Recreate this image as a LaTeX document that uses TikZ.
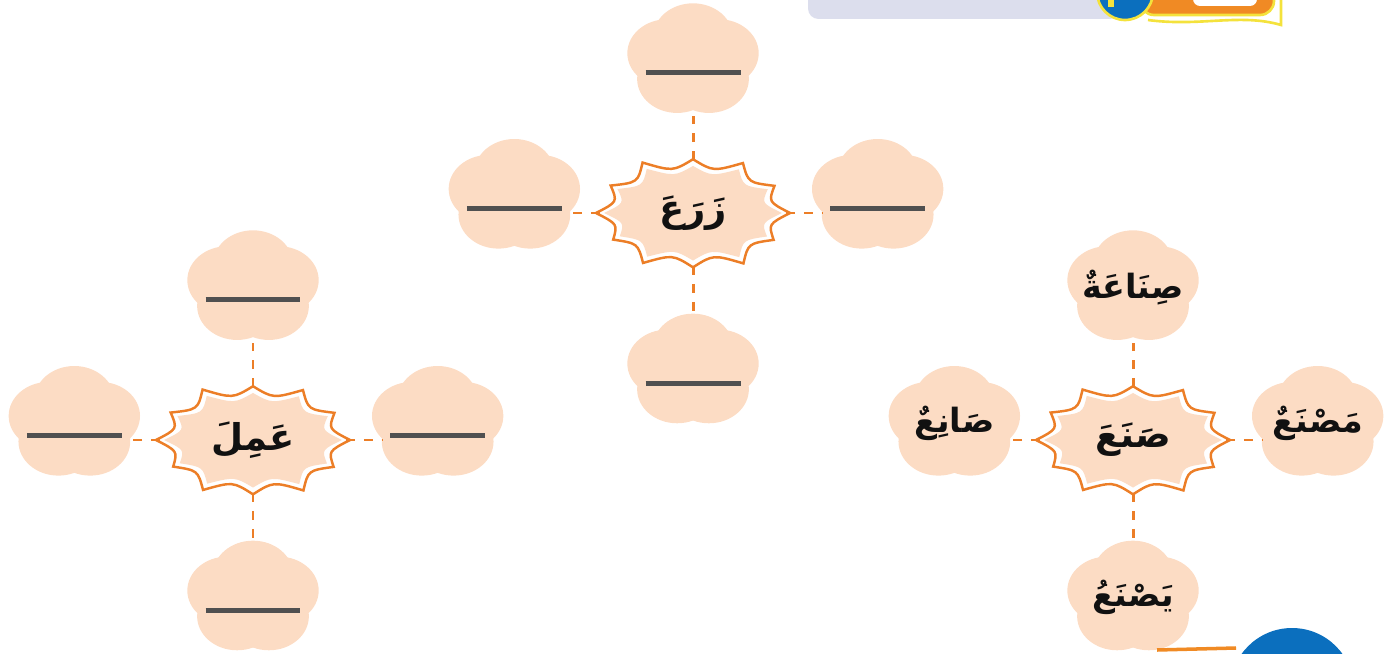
\documentclass[tikz,border=0pt]{standalone}
\usepackage{fontspec}
\usepackage{xcolor}
\usetikzlibrary{positioning,calc,shapes.geometric,backgrounds}
\TeXXeTstate=1
\newfontfamily\arabicfont[Script=Arabic]{DejaVu Sans}
\definecolor{Peach}{HTML}{FCDCC4}
\definecolor{Rim}{HTML}{EC7E27}
\definecolor{Ink}{HTML}{111111}
\definecolor{Blank}{HTML}{505050}
\definecolor{Sky}{HTML}{0B6FBE}
\definecolor{Lilac}{HTML}{DCDEED}
\definecolor{Sun}{HTML}{F4E23C}
\definecolor{Tab}{HTML}{F08A24}
\tikzset{
  root/.style={ellipse,minimum width=3.7cm,minimum height=2.1cm,inner sep=0pt,font=\arabicfont\bfseries\fontsize{21}{25}\selectfont,text=Ink},
  flower/.style={circle,minimum size=2.2cm,inner sep=0pt,font=\arabicfont\bfseries\fontsize{19}{23}\selectfont,text=Ink},
  petal/.style={fill=Peach},
  link/.style={draw=Rim,line width=1.7pt,dash pattern=on 0.18cm off 0.18cm}
}
\newcommand\blank{\smash{\raisebox{-0.3cm}{\color{Blank}\rule{1.9cm}{0.1cm}}}}
\newcommand\arword[1]{\beginR #1\endR}

\begin{document}
\begin{tikzpicture}[x=0.02cm,y=0.02cm]
  \useasboundingbox (0,0) rectangle (1395,653);
  % roots
  \node[root] (zr) at (693,440) {\arword{زَرَعَ}};
  \node[root] (am) at (253,213) {\arword{عَمِلَ}};
  \node[root] (sn) at (1133,213) {\arword{صَنَعَ}};
  % derived words
  \node[flower,above=0.89cm of zr] (zrN) {\blank};
  \node[flower,left=0.61cm of zr,yshift=0.34cm] (zrW) {\blank};
  \node[flower,right=0.73cm of zr,yshift=0.34cm] (zrE) {\blank};
  \node[flower,below=0.99cm of zr] (zrS) {\blank};
  \node[flower,above=0.89cm of am] (amN) {\blank};
  \node[flower,left=0.61cm of am,yshift=0.34cm] (amW) {\blank};
  \node[flower,right=0.73cm of am,yshift=0.34cm] (amE) {\blank};
  \node[flower,below=0.99cm of am] (amS) {\blank};
  \node[flower,above=0.89cm of sn] (snN) {\arword{صِنَاعَةٌ}};
  \node[flower,left=0.61cm of sn,yshift=0.34cm] (snW) {\arword{صَانِعٌ}};
  \node[flower,right=0.73cm of sn,yshift=0.34cm] (snE) {\arword{مَصْنَعٌ}};
  \node[flower,below=0.99cm of sn] (snS) {\arword{يَصْنَعُ}};
  % dashed links
  \foreach \r in {zr,am,sn} {
    \draw[link] (\r.north) -- (\r N.south);
    \draw[link] (\r.south) -- (\r S.north);
    \draw[link] (\r.west) -- (\r.west -| \r W.east);
    \draw[link] (\r.east) -- (\r.east -| \r E.west);
  }
  \begin{scope}[on background layer]
    % petals
    \foreach \f in {zrN,zrW,zrE,zrS,amN,amW,amE,amS,snN,snW,snE,snS}
      \foreach \a in {90,162,234,306,18}
        \fill[petal] (\f) ++(\a:27 and 23) circle [x radius=40,y radius=34];
    % wavy frames
    \foreach \r in {zr,am,sn} {
      \filldraw[fill=white,draw=Rim,line width=1.4pt] ($(\r)+(0:97 and 56)$)
        \foreach \k/\s in {1/0.97,2/1.03,3/0.96,4/1.04,5/0.98,6/1.0,7/0.95,8/1.03,9/0.97,10/1.04,11/0.96,12/1.0} {
          .. controls ($(\r)+({(\k-0.5)*30}:78 and 43)$) .. ($(\r)+({\k*30}:{97*\s} and {56*\s})$)
        } -- cycle;
      \fill[Peach] ($(\r)+(0:89 and 49)$)
        \foreach \k/\s in {1/0.97,2/1.03,3/0.96,4/1.04,5/0.98,6/1.0,7/0.95,8/1.03,9/0.97,10/1.04,11/0.96,12/1.0} {
          .. controls ($(\r)+({(\k-0.5)*30}:71 and 38)$) .. ($(\r)+({\k*30}:{89*\s} and {49*\s})$)
        } -- cycle;
    }
  \end{scope}
  % banner, top right
  \fill[Lilac,rounded corners=6] (808,665) |- (1120,634) -- (1120,665) -- cycle;
  \draw[Sun,line width=1.5pt,fill=Tab,rounded corners=8] (1140,665) |- (1274,638) -- (1274,665);
  \draw[Sun,line width=1.5pt] (1148,633) .. controls (1200,626) and (1240,640) .. (1281,628) -- (1281,665);
  \fill[white,rounded corners=4] (1193,665) |- (1257,647) -- (1257,665) -- cycle;
  \filldraw[fill=Sky,draw=Sun,line width=1.5pt] (1125,661) circle (28);
  \fill[Sun] (1108,646) rectangle (1114,653);
  % badge, bottom right
  \draw[Tab,line width=2pt] (1157,3) -- (1236,5);
  \fill[Sky] (1292,-37) circle (62);
\end{tikzpicture}
\end{document}
